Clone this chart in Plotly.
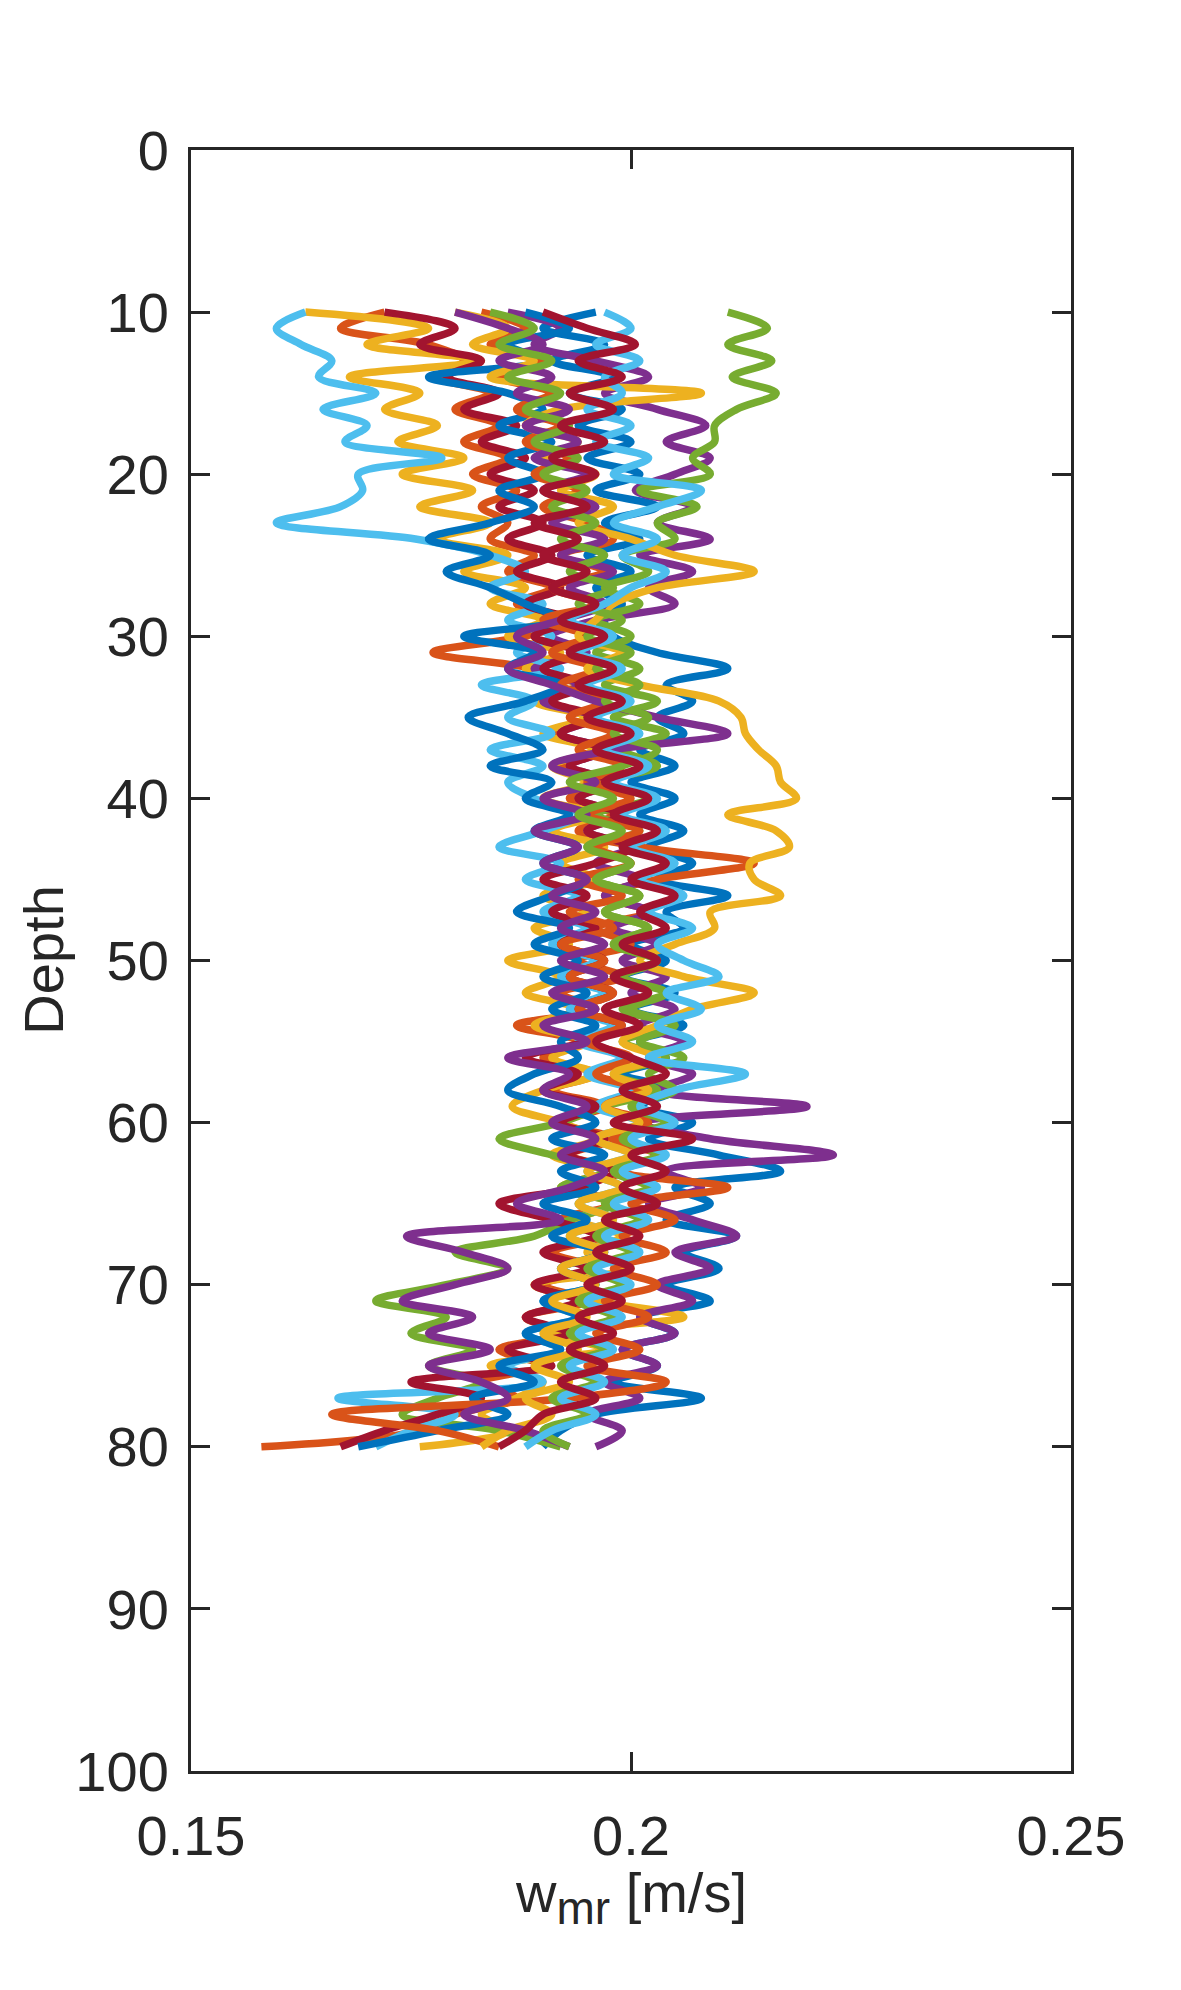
import plotly.graph_objects as go

# depth levels (m) shared by every profile
depth = list(range(10, 81))

# w_mr profiles [m/s], one value per metre of depth (10..80)
blue_a = [0.196, 0.190, 0.197, 0.191, 0.198, 0.193, 0.199, 0.194, 0.200, 0.195,
          0.201, 0.196, 0.203, 0.197, 0.201, 0.195, 0.200, 0.196, 0.199, 0.197,
          0.198, 0.203, 0.211, 0.204, 0.207, 0.203, 0.206, 0.201, 0.205, 0.200,
          0.205, 0.201, 0.206, 0.202, 0.207, 0.203, 0.211, 0.204, 0.206, 0.200,
          0.204, 0.199, 0.205, 0.200, 0.206, 0.201, 0.204, 0.199, 0.205, 0.201,
          0.207, 0.202, 0.210, 0.217, 0.205, 0.209, 0.204, 0.212, 0.206, 0.210,
          0.204, 0.209, 0.201, 0.205, 0.199, 0.203, 0.198, 0.208, 0.196, 0.192,
          0.190]
orange_a = [0.172, 0.167, 0.177, 0.181, 0.178, 0.184, 0.180, 0.185, 0.181, 0.186,
            0.182, 0.187, 0.183, 0.186, 0.184, 0.189, 0.186, 0.191, 0.187, 0.193,
            0.188, 0.1775, 0.189, 0.194, 0.190, 0.195, 0.191, 0.196, 0.192, 0.197,
            0.193, 0.198, 0.194, 0.201, 0.214, 0.203, 0.197, 0.202, 0.196, 0.200,
            0.194, 0.199, 0.192, 0.196, 0.187, 0.194, 0.190, 0.196, 0.191, 0.197,
            0.192, 0.198, 0.193, 0.199, 0.194, 0.198, 0.192, 0.197, 0.191, 0.196,
            0.190, 0.195, 0.188, 0.192, 0.185, 0.190, 0.183, 0.187, 0.180, 0.176,
            0.158]
yellow_a = [0.163, 0.177, 0.170, 0.183, 0.168, 0.176, 0.172, 0.178, 0.1735, 0.181,
            0.174, 0.182, 0.176, 0.184, 0.178, 0.186, 0.181, 0.188, 0.184, 0.190,
            0.186, 0.192, 0.188, 0.194, 0.189, 0.195, 0.190, 0.196, 0.191, 0.195,
            0.190, 0.196, 0.191, 0.197, 0.192, 0.196, 0.190, 0.195, 0.189, 0.193,
            0.186, 0.192, 0.188, 0.194, 0.189, 0.195, 0.191, 0.196, 0.190, 0.1865,
            0.192, 0.196, 0.191, 0.197, 0.192, 0.198, 0.194, 0.199, 0.195, 0.200,
            0.189, 0.196, 0.206, 0.191, 0.197, 0.184, 0.190, 0.187, 0.183, 0.186,
            0.176]
purple_a = [0.186, 0.192, 0.189, 0.196, 0.202, 0.197, 0.203, 0.2085, 0.204, 0.209,
            0.205, 0.2005, 0.207, 0.203, 0.209, 0.201, 0.207, 0.202, 0.205, 0.196,
            0.191, 0.195, 0.189, 0.194, 0.190, 0.196, 0.192, 0.197, 0.193, 0.198,
            0.194, 0.199, 0.195, 0.200, 0.196, 0.201, 0.197, 0.202, 0.198, 0.203,
            0.199, 0.204, 0.200, 0.205, 0.201, 0.206, 0.202, 0.207, 0.203, 0.220,
            0.201, 0.209, 0.223, 0.204, 0.208, 0.202, 0.207, 0.212, 0.205, 0.209,
            0.203, 0.207, 0.201, 0.205, 0.199, 0.203, 0.197, 0.201, 0.195, 0.199,
            0.196]
green_a = [0.211, 0.2155, 0.211, 0.216, 0.2115, 0.2165, 0.212, 0.2095, 0.2095, 0.207,
           0.209, 0.201, 0.2075, 0.203, 0.205, 0.199, 0.202, 0.197, 0.201, 0.196,
           0.200, 0.196, 0.201, 0.197, 0.203, 0.198, 0.204, 0.199, 0.203, 0.197,
           0.202, 0.196, 0.201, 0.195, 0.200, 0.196, 0.201, 0.197, 0.202, 0.198,
           0.203, 0.198, 0.204, 0.199, 0.205, 0.199, 0.204, 0.198, 0.203, 0.197,
           0.192, 0.185, 0.191, 0.197, 0.192, 0.198, 0.193, 0.189, 0.180, 0.186,
           0.179, 0.171, 0.179, 0.175, 0.182, 0.177, 0.183, 0.178, 0.174, 0.185,
           0.192]
lightblue_a = [0.163, 0.1597, 0.1625, 0.166, 0.1645, 0.171, 0.165, 0.170, 0.1675, 0.1785,
               0.169, 0.1695, 0.167, 0.1597, 0.1755, 0.184, 0.188, 0.184, 0.190, 0.186,
               0.191, 0.187, 0.192, 0.183, 0.189, 0.186, 0.191, 0.184, 0.190, 0.186,
               0.189, 0.194, 0.190, 0.185, 0.192, 0.188, 0.194, 0.190, 0.195, 0.191,
               0.196, 0.192, 0.197, 0.193, 0.198, 0.194, 0.199, 0.195, 0.200, 0.196,
               0.201, 0.196, 0.200, 0.195, 0.199, 0.194, 0.198, 0.193, 0.197, 0.192,
               0.196, 0.190, 0.194, 0.188, 0.192, 0.186, 0.190, 0.1667, 0.180, 0.175,
               0.171]
darkred_a = [0.172, 0.180, 0.176, 0.183, 0.179, 0.185, 0.181, 0.187, 0.183, 0.188,
             0.184, 0.189, 0.185, 0.190, 0.186, 0.191, 0.187, 0.192, 0.188, 0.193,
             0.189, 0.194, 0.190, 0.195, 0.191, 0.196, 0.192, 0.197, 0.193, 0.198,
             0.194, 0.199, 0.195, 0.200, 0.196, 0.190, 0.195, 0.191, 0.196, 0.192,
             0.197, 0.193, 0.198, 0.194, 0.199, 0.195, 0.188, 0.194, 0.190, 0.196,
             0.192, 0.197, 0.193, 0.198, 0.194, 0.185, 0.191, 0.196, 0.190, 0.195,
             0.189, 0.194, 0.188, 0.193, 0.186, 0.191, 0.175, 0.183, 0.178, 0.172,
             0.167]
blue_b = [0.188, 0.193, 0.186, 0.190, 0.177, 0.186, 0.190, 0.185, 0.191, 0.186,
          0.190, 0.185, 0.189, 0.184, 0.177, 0.184, 0.179, 0.184, 0.188, 0.192,
          0.181, 0.189, 0.186, 0.192, 0.188, 0.1815, 0.186, 0.190, 0.184, 0.191,
          0.188, 0.193, 0.189, 0.194, 0.190, 0.195, 0.191, 0.187, 0.193, 0.189,
          0.194, 0.190, 0.195, 0.191, 0.196, 0.192, 0.194, 0.189, 0.186, 0.192,
          0.196, 0.191, 0.197, 0.192, 0.196, 0.190, 0.195, 0.191, 0.197, 0.192,
          0.196, 0.190, 0.194, 0.188, 0.192, 0.185, 0.189, 0.182, 0.186, 0.178,
          0.169]
orange_b = [0.183, 0.188, 0.184, 0.190, 0.185, 0.191, 0.187, 0.192, 0.188, 0.193,
            0.189, 0.194, 0.190, 0.195, 0.198, 0.192, 0.197, 0.191, 0.196, 0.190,
            0.195, 0.191, 0.196, 0.192, 0.197, 0.193, 0.198, 0.194, 0.199, 0.195,
            0.200, 0.195, 0.201, 0.196, 0.200, 0.194, 0.199, 0.193, 0.198, 0.192,
            0.197, 0.193, 0.198, 0.194, 0.199, 0.195, 0.200, 0.196, 0.201, 0.197,
            0.202, 0.198, 0.203, 0.199, 0.211, 0.200, 0.205, 0.199, 0.204, 0.198,
            0.203, 0.197, 0.202, 0.196, 0.201, 0.195, 0.204, 0.193, 0.166, 0.178,
            0.185]
yellow_b = [0.180, 0.186, 0.182, 0.189, 0.184, 0.208, 0.192, 0.188, 0.194, 0.190,
            0.196, 0.192, 0.198, 0.194, 0.200, 0.205, 0.214, 0.203, 0.198, 0.196,
            0.194, 0.199, 0.195, 0.201, 0.210, 0.2125, 0.213, 0.2145, 0.2165, 0.217,
            0.2188, 0.211, 0.2165, 0.218, 0.2135, 0.214, 0.217, 0.209, 0.2095, 0.205,
            0.201, 0.206, 0.214, 0.207, 0.203, 0.199, 0.203, 0.198, 0.202, 0.197,
            0.201, 0.196, 0.200, 0.195, 0.199, 0.194, 0.198, 0.193, 0.197, 0.192,
            0.196, 0.191, 0.195, 0.190, 0.194, 0.189, 0.193, 0.188, 0.191, 0.186,
            0.183]
purple_b = [0.180, 0.186, 0.190, 0.185, 0.191, 0.187, 0.193, 0.188, 0.194, 0.189,
            0.195, 0.190, 0.196, 0.191, 0.197, 0.192, 0.198, 0.193, 0.197, 0.192,
            0.187, 0.190, 0.186, 0.191, 0.196, 0.203, 0.211, 0.198, 0.191, 0.196,
            0.190, 0.195, 0.189, 0.194, 0.190, 0.195, 0.191, 0.196, 0.192, 0.197,
            0.192, 0.197, 0.191, 0.196, 0.190, 0.195, 0.186, 0.193, 0.190, 0.195,
            0.191, 0.196, 0.192, 0.197, 0.193, 0.187, 0.192, 0.1745, 0.181, 0.186,
            0.180, 0.174, 0.182, 0.177, 0.184, 0.177, 0.183, 0.186, 0.181, 0.188,
            0.193]
green_b = [0.184, 0.189, 0.185, 0.191, 0.186, 0.192, 0.188, 0.193, 0.189, 0.194,
           0.190, 0.195, 0.191, 0.196, 0.192, 0.197, 0.193, 0.198, 0.194, 0.199,
           0.195, 0.200, 0.196, 0.201, 0.197, 0.202, 0.198, 0.203, 0.199, 0.193,
           0.198, 0.194, 0.199, 0.195, 0.200, 0.196, 0.201, 0.197, 0.202, 0.198,
           0.203, 0.199, 0.204, 0.200, 0.205, 0.201, 0.206, 0.202, 0.205, 0.200,
           0.204, 0.199, 0.203, 0.198, 0.202, 0.197, 0.201, 0.196, 0.200, 0.195,
           0.199, 0.194, 0.198, 0.193, 0.197, 0.192, 0.196, 0.191, 0.195, 0.190,
           0.193]
lightblue_b = [0.197, 0.200, 0.196, 0.201, 0.197, 0.199, 0.195, 0.200, 0.196, 0.202,
               0.198, 0.208, 0.203, 0.198, 0.203, 0.199, 0.204, 0.200, 0.197, 0.193,
               0.198, 0.194, 0.199, 0.195, 0.200, 0.196, 0.201, 0.197, 0.202, 0.198,
               0.203, 0.199, 0.204, 0.200, 0.205, 0.201, 0.206, 0.202, 0.207, 0.203,
               0.206, 0.210, 0.204, 0.208, 0.203, 0.207, 0.202, 0.213, 0.205, 0.201,
               0.205, 0.200, 0.204, 0.199, 0.203, 0.198, 0.202, 0.197, 0.201, 0.196,
               0.200, 0.195, 0.199, 0.194, 0.198, 0.193, 0.197, 0.192, 0.196, 0.191,
               0.188]
darkred_b = [0.190, 0.195, 0.2005, 0.194, 0.199, 0.193, 0.198, 0.192, 0.197, 0.191,
             0.196, 0.190, 0.195, 0.189, 0.194, 0.190, 0.195, 0.191, 0.196, 0.192,
             0.197, 0.193, 0.198, 0.194, 0.199, 0.195, 0.200, 0.196, 0.201, 0.197,
             0.202, 0.198, 0.203, 0.199, 0.204, 0.200, 0.205, 0.201, 0.204, 0.199,
             0.203, 0.198, 0.202, 0.197, 0.201, 0.196, 0.200, 0.204, 0.199, 0.203,
             0.198, 0.207, 0.200, 0.204, 0.199, 0.203, 0.197, 0.201, 0.196, 0.200,
             0.195, 0.199, 0.194, 0.198, 0.193, 0.197, 0.192, 0.196, 0.190, 0.188,
             0.185]

profiles = [blue_a, orange_a, yellow_a, purple_a, green_a, lightblue_a, darkred_a,
            blue_b, orange_b, yellow_b, purple_b, green_b, lightblue_b, darkred_b]

# MATLAB default line colour order
colors = ['#0072BD', '#D95319', '#EDB120', '#7E2F8E', '#77AC30', '#4DBEEE', '#A2142F']

x_ticks = [0.15, 0.2, 0.25]
x_tick_text = ['0.15', '0.2', '0.25']
y_ticks = list(range(0, 101, 10))

FONT = 'Liberation Sans, Arial, Helvetica, sans-serif'
INK = '#262626'

fig = go.Figure()
for i, w in enumerate(profiles):
    assert len(w) == len(depth), i
    fig.add_trace(go.Scatter(
        x=w, y=depth,
        mode='lines',
        line=dict(color=colors[i % len(colors)], width=7.5, shape='spline', smoothing=1.0),
        hoverinfo='skip',
        showlegend=False
    ))

axis_common = dict(
    showline=True, linecolor=INK, linewidth=3, mirror='ticks',
    ticks='inside', ticklen=19, tickwidth=3, tickcolor=INK,
    showgrid=False, zeroline=False,
    tickfont=dict(family=FONT, size=56, color=INK),
)

fig.update_layout(
    width=1181, height=1990,
    margin=dict(l=183, r=118, t=142, b=227),
    plot_bgcolor='white', paper_bgcolor='white',
    xaxis=dict(range=[0.15, 0.25], tickvals=x_ticks, ticktext=x_tick_text,
               ticklabelstandoff=14, **axis_common),
    yaxis=dict(range=[100, 0], tickvals=y_ticks, ticklabelstandoff=8, **axis_common),
    annotations=[
        dict(text='w<sub><span style="font-size:46px">mr</span></sub> [m/s]',
             xref='paper', yref='paper',
             x=0.5, y=-0.078, xanchor='center', yanchor='middle', showarrow=False,
             font=dict(family=FONT, size=56, color=INK)),
        dict(text='Depth', xref='paper', yref='paper',
             x=-0.168, y=0.5, xanchor='center', yanchor='middle', showarrow=False,
             textangle=-90, font=dict(family=FONT, size=56, color=INK)),
    ],
)

fig.write_html("out.html")
